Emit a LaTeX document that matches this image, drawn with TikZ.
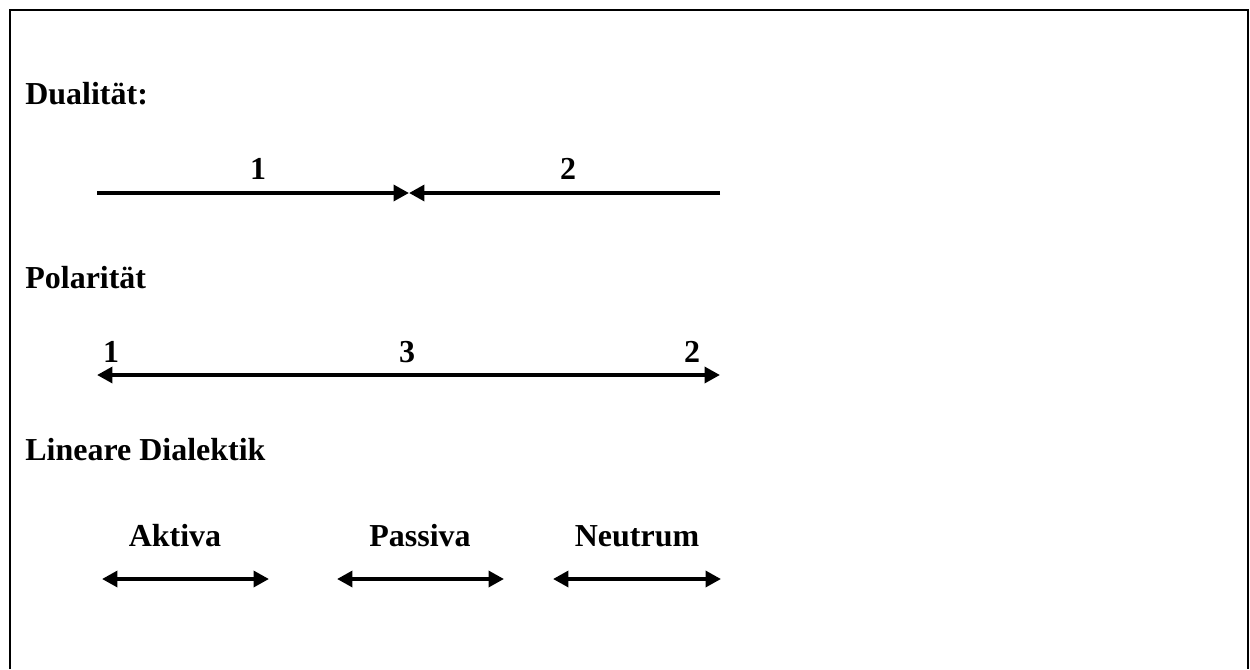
\documentclass[tikz,border=0pt]{standalone}
\usepackage{fontspec}
\setmainfont{Liberation Serif}
\usetikzlibrary{arrows.meta}
\tikzset{
  lbl/.style={font=\fontsize{18.2}{20}\selectfont\bfseries, inner sep=0pt},
  head/.style={lbl, anchor=base west},
  num/.style={lbl, anchor=base},
  arr/.style={line width=2.4pt, -{Triangle[length=8.8pt,width=9pt]}},
  darr/.style={line width=2.4pt, {Triangle[length=8.8pt,width=9pt]}-{Triangle[length=8.8pt,width=9pt]}},
  frame/.style={line width=1.5pt}
}
\begin{document}
\begin{tikzpicture}[x=0.02cm,y=-0.02cm]
\useasboundingbox (0,0) rectangle (1250,669);
% frame (open at the bottom)
\coordinate (fbl) at (10,669);
\coordinate (ftl) at (10,10);
\coordinate (ftr) at (1248,10);
\coordinate (fbr) at (1248,669);
\draw[frame] (fbl) -- (ftl) -- (ftr) -- (fbr);

% Dualitaet
\node[head] (h1) at (25,105) {Dualität:};
\coordinate (d1) at (97,193);
\coordinate (dm) at (409,193);
\coordinate (d2) at (720,193);
\draw[arr] (d1) -- (dm);
\draw[arr] (d2) -- (dm);
\node[num] (n11) at (258,179) {1};
\node[num] (n12) at (568,179) {2};

% Polaritaet
\node[head] (h2) at (25,288) {Polarität};
\coordinate (p1) at (97,375);
\coordinate (p2) at (720,375);
\draw[darr] (p1) -- (p2);
\node[num] (n21) at (111,362) {1};
\node[num] (n23) at (407,362) {3};
\node[num] (n22) at (692,362) {2};

% Lineare Dialektik
\node[head] (h3) at (25,460) {Lineare Dialektik};
\coordinate (a1) at (102,579);
\coordinate (a2) at (269,579);
\coordinate (b1) at (337,579);
\coordinate (b2) at (504,579);
\coordinate (c1) at (553,579);
\coordinate (c2) at (721,579);
\draw[darr] (a1) -- (a2);
\draw[darr] (b1) -- (b2);
\draw[darr] (c1) -- (c2);
\node[num] (la) at (175,546) {Aktiva};
\node[num] (lb) at (420,546) {Passiva};
\node[num] (lc) at (637,546) {Neutrum};
\end{tikzpicture}
\end{document}
